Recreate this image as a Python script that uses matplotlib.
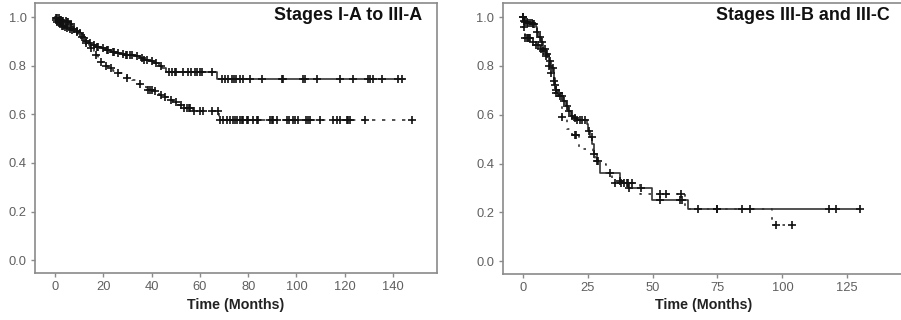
import numpy as np
import matplotlib
matplotlib.use("Agg")
import matplotlib.pyplot as plt

plt.rcParams['font.family'] = ['Liberation Sans', 'DejaVu Sans']

# ---------------- Left panel: Stages I-A to III-A ----------------
left_title = "Stages I-A to III-A"
left_solid_t = [0.5, 1, 2, 3, 4, 5, 6, 7, 8, 9, 10, 11, 12, 13, 14, 15, 17, 19, 21, 23, 25, 27, 29, 33,
                35, 37, 39, 41, 43, 44.5, 46, 67]
left_solid_s = [0.998, 0.995, 0.99, 0.985, 0.982, 0.978, 0.972, 0.96, 0.95, 0.942, 0.935, 0.925, 0.912,
                0.90, 0.892, 0.885, 0.878, 0.872, 0.865, 0.858, 0.853, 0.848, 0.844, 0.84, 0.832, 0.825,
                0.818, 0.812, 0.80, 0.79, 0.775, 0.745]
left_solid_end = 144.7
left_solid_cens = [0.5, 1, 1.5, 2, 2.5, 3, 3.5, 4.5, 5, 5.5, 6.5, 8, 9, 10.5, 12, 13, 14.5, 16, 17.5, 18,
                   20, 21.5, 22, 24, 24.5, 26, 28, 29.5, 30, 31, 32, 34, 36, 37, 38, 40, 42, 44, 47, 48.5,
                   49.5, 50, 53, 55, 56.5, 58, 59, 60, 61, 65,
                   69.0, 70.4, 71.8, 73.2, 74.1, 75.0, 76.6, 78.0, 80.8, 85.6, 93.9, 94.6, 102.9, 103.6,
                   108.4, 118.0, 123.5, 129.8, 130.5, 131.8, 135.3, 142.2, 143.6]

left_dot_t = [0.5, 1, 2, 3, 4, 5, 6, 7, 8, 9, 10, 11, 12, 13, 14, 15, 16, 17, 18, 19, 20, 22, 24, 26, 28,
              30, 32, 34, 36, 38, 41, 43, 45, 47, 49, 51, 53, 57, 68]
left_dot_s = [0.99, 0.98, 0.972, 0.965, 0.96, 0.957, 0.953, 0.948, 0.944, 0.94, 0.93, 0.92, 0.908, 0.895,
              0.885, 0.872, 0.86, 0.845, 0.83, 0.815, 0.80, 0.79, 0.78, 0.77, 0.76, 0.75, 0.74, 0.725,
              0.712, 0.70, 0.695, 0.68, 0.67, 0.66, 0.65, 0.64, 0.628, 0.614, 0.576]
left_dot_end = 148.0
left_dot_cens = [0.5, 1, 1.5, 2, 3, 3.5, 4, 5, 6, 7, 9, 11, 13, 15, 17, 19, 21, 23, 26, 30, 35, 38.5,
                 39.5, 40, 41.5, 44, 45.5, 48, 50, 52, 53.5, 54.5, 55.5, 56, 57.5, 60, 61.4, 64.9, 67.6,
                 68.4, 69.5, 71.1, 72.5, 73.9, 74.6, 75.5, 76.6, 77.3, 78.0, 79.4, 80.0, 82.1, 83.5,
                 84.2, 89.1, 89.8, 90.4, 91.8, 96.2, 97.0, 98.4, 99.4, 100.8, 104.0, 104.9, 105.6,
                 109.8, 115.0, 116.7, 118.0, 120.8, 121.5, 122.2, 128.4, 148.0]
left_xticks = [0, 20, 40, 60, 80, 100, 120, 140]

# ---------------- Right panel: Stages III-B and III-C ----------------
right_title = "Stages III-B and III-C"
right_solid_t = [0.5, 1, 2, 4, 5, 5.5, 6, 7, 8, 9, 10, 11, 12, 12.5, 13, 14.5, 15.5, 16.5, 17.5, 18.5,
                 19.5, 21, 24.6, 25.3, 26, 26.6, 27.3, 28.5, 29.8, 37.5, 38.5, 40.7, 49.7, 63.8]
right_solid_s = [0.985, 0.98, 0.975, 0.97, 0.96, 0.94, 0.92, 0.90, 0.87, 0.85, 0.82, 0.79, 0.75, 0.72,
                 0.69, 0.675, 0.655, 0.635, 0.615, 0.595, 0.585, 0.577, 0.56, 0.535, 0.51, 0.48, 0.44,
                 0.41, 0.36, 0.33, 0.32, 0.30, 0.25, 0.215]
right_solid_end = 130.0
right_solid_cens = [0.2, 0.5, 1, 1.5, 2, 3, 3.5, 4, 4.5, 5.5, 6.5, 7.5, 8.5, 9.5, 10.5, 11.5, 12.5, 13,
                    13.5, 14, 14.5, 15, 16, 17, 18, 19, 20, 21, 22, 23, 24, 25.5, 26.5, 27.5, 28.5, 29,
                    33.5, 37.5, 39, 40.5, 41, 45.4, 52.9, 60.6, 61.3, 74.7, 117.9, 120.5, 130]

right_dot_t = [0.3, 0.9, 3.5, 5, 6.5, 8, 9, 10, 11, 12, 13, 14, 15, 17, 19, 21.5, 27, 28, 30, 32, 34.5,
               45, 62.5, 96]
right_dot_s = [0.96, 0.915, 0.90, 0.885, 0.87, 0.86, 0.84, 0.80, 0.77, 0.74, 0.70, 0.68, 0.59, 0.54,
               0.515, 0.46, 0.44, 0.41, 0.40, 0.36, 0.32, 0.275, 0.215, 0.148]
right_dot_end = 104.0
right_dot_cens = [0.2, 0.5, 1, 1.5, 2, 2.5, 3, 4, 5, 6, 7, 8, 9, 10, 11, 12, 13, 15.2, 20, 20.5, 35.5,
                  38, 40, 42, 53, 55, 61, 67.6, 75, 84.3, 87.5, 97.4, 103.6]
right_xticks = [0, 25, 50, 75, 100, 125]

yticks = [0.0, 0.2, 0.4, 0.6, 0.8, 1.0]
xlabel = "Time (Months)"

W, H = 901, 320
fig = plt.figure(figsize=(W / 100, H / 100), dpi=100)

axL = fig.add_axes([35 / W, 47 / H, 402 / W, 270 / H])
axR = fig.add_axes([502.7 / W, 46 / H, 402 / W, 271 / H])

LINE_COLOR = '#333333'


def km_curve(ax, t, s, end, cens, ls):
    tt = np.concatenate([[0.0], np.asarray(t, float), [end]])
    ss = np.concatenate([[1.0], np.asarray(s, float), [s[-1]]])
    ax.step(tt, ss, where='post', color=LINE_COLOR, lw=1.2, linestyle=ls)
    c = np.asarray(cens, float)
    idx = np.searchsorted(tt, c, side='right') - 1
    cy = ss[np.clip(idx, 0, len(ss) - 1)]
    ax.plot(c, cy, linestyle='none', marker='+', color='#111111', ms=5.5, mew=1.2)


def style(ax, xticks, xlim, title, title_size):
    ax.set_xlim(*xlim)
    ax.set_ylim(-0.053, 1.058)
    ax.set_xticks(xticks)
    ax.set_yticks(yticks)
    ax.set_yticklabels([f"{v:.1f}" for v in yticks])
    for sp in ax.spines.values():
        sp.set_color('#8a8a8a')
        sp.set_linewidth(1.2)
    ax.tick_params(axis='both', colors='#8a8a8a', labelcolor='#606060', labelsize=9.3, length=3,
                   width=1, direction='out', pad=3)
    ax.set_xlabel(xlabel, fontsize=10.3, fontweight='bold', color='#222222', labelpad=3)
    ax.text(0.962, 0.953, title, transform=ax.transAxes, ha='right', va='center',
            fontsize=title_size, fontweight='bold', color='#111111')


km_curve(axL, left_solid_t, left_solid_s, left_solid_end, left_solid_cens, '-')
km_curve(axL, left_dot_t, left_dot_s, left_dot_end, left_dot_cens, (0, (2, 4)))
style(axL, left_xticks, (-8.3, 158.2), left_title, 12.9)

km_curve(axR, right_solid_t, right_solid_s, right_solid_end, right_solid_cens, '-')
km_curve(axR, right_dot_t, right_dot_s, right_dot_end, right_dot_cens, (0, (1.5, 4)))
style(axR, right_xticks, (-7.7, 147.1), right_title, 12.9)

fig.savefig('out.png', dpi=100)
